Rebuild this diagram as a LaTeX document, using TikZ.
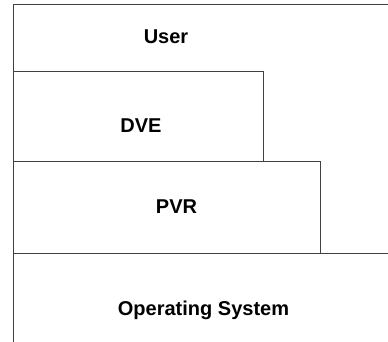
\documentclass[tikz,border=0pt]{standalone}
\usepackage{fontspec}
\setmainfont{Liberation Sans}
\begin{document}
\begin{tikzpicture}[x=1pt,y=1pt,
  edge/.style={draw=black!75, line width=0.9pt},
  lbl/.style={font=\fontsize{20}{24}\selectfont\bfseries, inner sep=0pt}]
\useasboundingbox (0,0) rectangle (388,342);
% layer texts
\node[lbl] (user) at (166,305) {User};
\node[lbl] (dve) at (141,216) {DVE};
\node[lbl] (pvr) at (176.5,135) {PVR};
\node[lbl] (os) at (203.5,32) {Operating System};
% frame lines
\draw[edge] (388,338) -- (13,338) -- (13,0);
\draw[edge] (13,271) -- (263,271) -- (263,181);
\draw[edge] (13,181) -- (320,181) -- (320,89);
\draw[edge] (13,89) -- (388,89);
\end{tikzpicture}
\end{document}
